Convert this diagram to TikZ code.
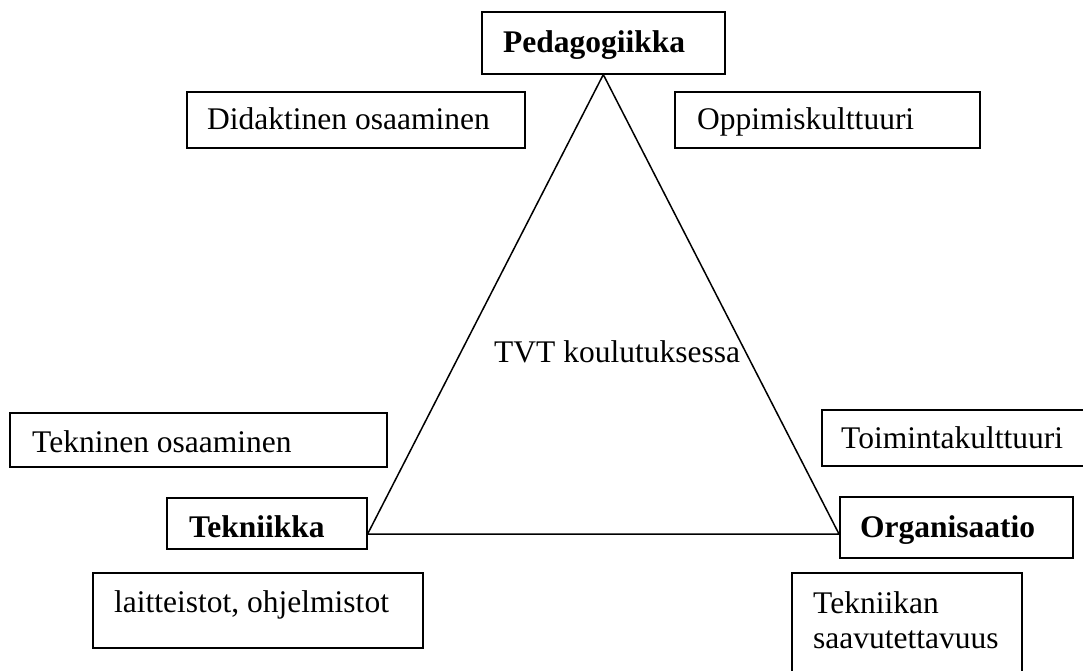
\documentclass[tikz,border=0pt]{standalone}
\usepackage{fontspec}
\setmainfont{Liberation Serif}
\begin{document}
\begin{tikzpicture}[x=1pt,y=-1pt,
  box/.style={draw=black,line width=1.6pt,inner sep=0pt,anchor=north west},
  txt/.style={inner sep=0pt,anchor=base west,font=\fontsize{31.5}{35}\selectfont},
  edge/.style={draw=black,line width=1.5pt,line join=miter}]
\path[use as bounding box] (0,0) rectangle (1083,671);
\clip (0,0) rectangle (1083,671);
% boxes
\node[box,minimum width=243pt,minimum height=62pt] (ped) at (481,11) {};
\node[box,minimum width=338pt,minimum height=56pt] (did) at (186,91) {};
\node[box,minimum width=305pt,minimum height=56pt] (opp) at (674,91) {};
\node[box,minimum width=377pt,minimum height=54pt] (tos) at (9,412) {};
\node[box,minimum width=200pt,minimum height=51pt] (tek) at (166,497) {};
\node[box,minimum width=262pt,minimum height=56pt] (toi) at (821,409) {};
\node[box,minimum width=233pt,minimum height=61pt] (org) at (839,496) {};
\node[box,minimum width=230pt,minimum height=120pt] (sav) at (791,572) {};
\node[box,minimum width=330pt,minimum height=75pt] (lai) at (92,572) {};
% texts
\node[txt] (tped) at (503,53) {\bfseries Pedagogiikka};
\node[txt] (tdid) at (207,130) {Didaktinen osaaminen};
\node[txt] (topp) at (697,130) {Oppimiskulttuuri};
\node[txt] (ttos) at (32,452) {Tekninen osaaminen};
\node[txt] (ttek) at (189,537) {\bfseries Tekniikka};
\node[txt] (ttoi) at (841,448) {Toimintakulttuuri};
\node[txt] (torg) at (860,537) {\bfseries Organisaatio};
\node[txt] (tsav1) at (813,613) {Tekniikan};
\node[txt] (tsav2) at (813,648) {saavutettavuus};
\node[txt] (tlai) at (114,612) {laitteistot, ohjelmistot};
\node[txt] (tvt) at (494,362) {TVT koulutuksessa};
% triangle
\coordinate (B) at (tek.east |- 0,534);
\coordinate (C) at (org.west |- 0,534);
\draw[edge] (ped.south) -- (B) -- (C) -- cycle;
\end{tikzpicture}
\end{document}
